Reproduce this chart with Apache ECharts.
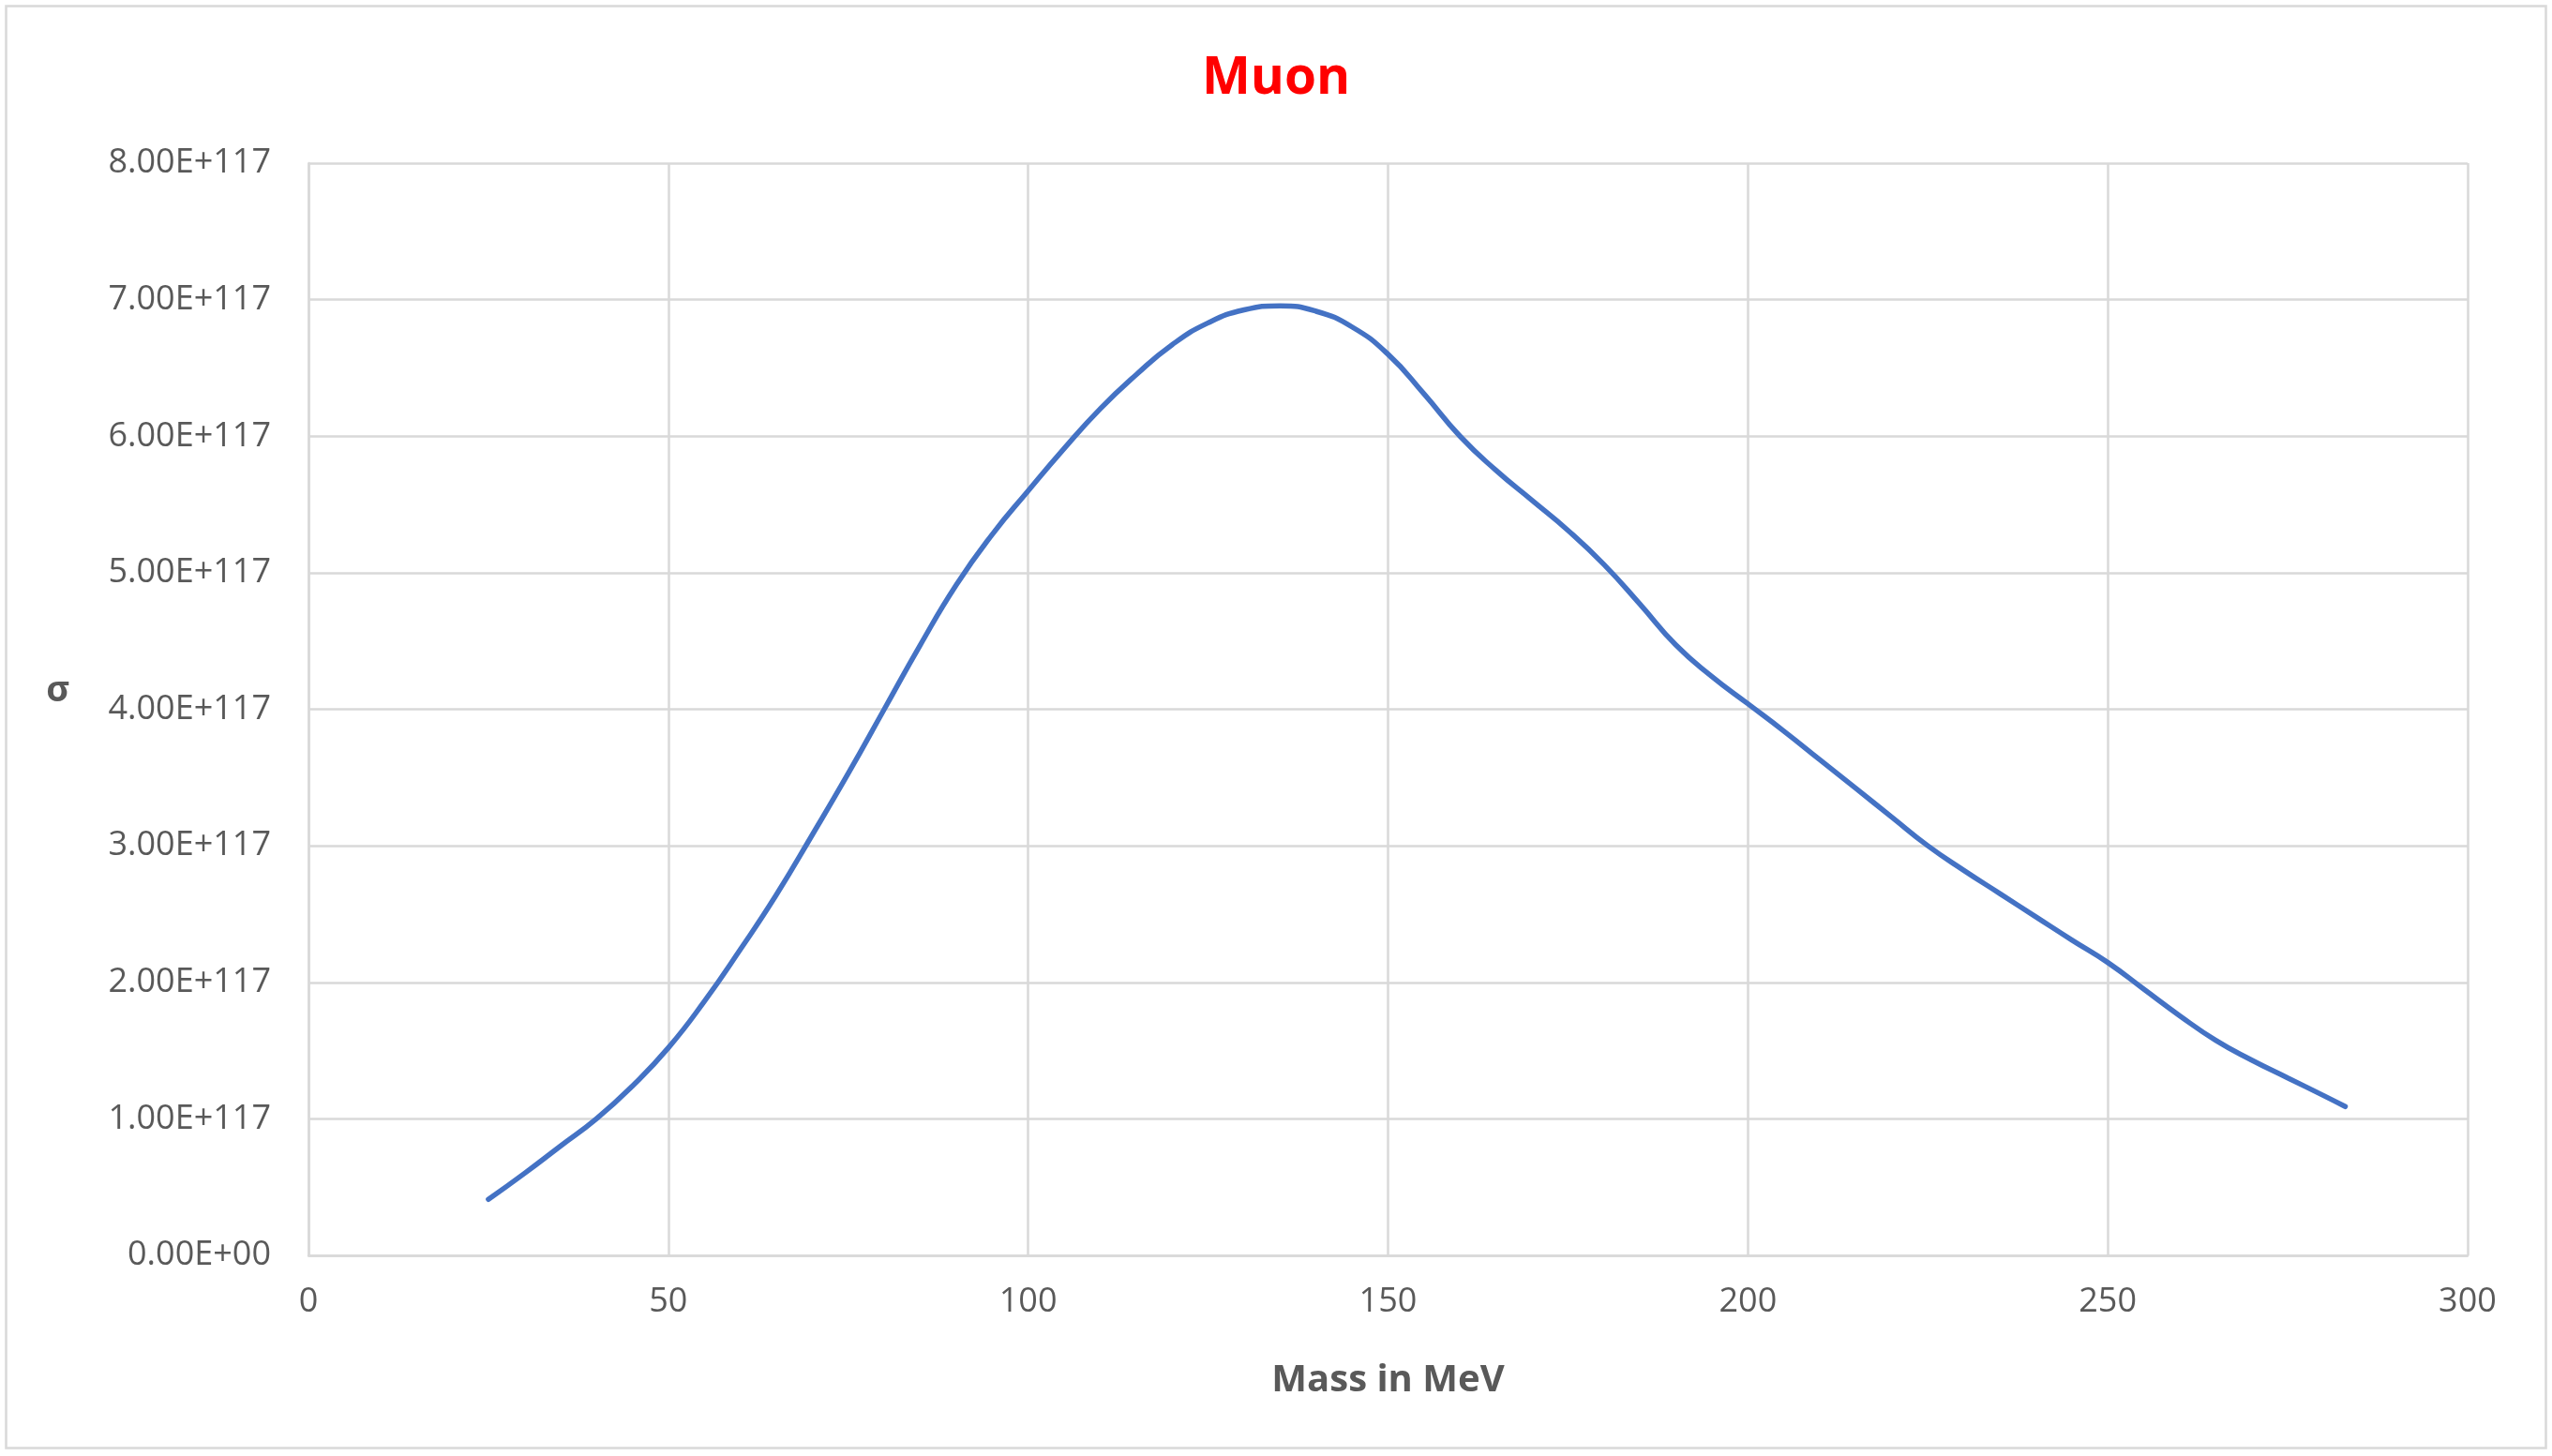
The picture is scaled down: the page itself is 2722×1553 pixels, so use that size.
<!DOCTYPE html>
<html><head><meta charset="utf-8">
<script src="https://cdn.jsdelivr.net/npm/echarts@6/dist/echarts.min.js"></script>
<style>html,body{margin:0;padding:0;background:#fff}#c{width:2722px;height:1553px}</style>
</head><body><div id="c"></div>
<script>
// Mass in MeV
const massMeV = [25, 30, 35, 40, 45, 50, 55, 60, 65, 70, 75, 80, 85, 90, 95, 100, 105, 110, 115, 120, 125, 130, 135, 140, 145, 150, 155, 160, 165, 170, 175, 180, 185, 190, 195, 200, 205, 210, 215, 220, 225, 230, 235, 240, 245, 250, 255, 260, 265, 270, 275, 280, 283];
// sigma, in units of 1E+117
const sigmaE117 = [0.41, 0.60, 0.80, 1.00, 1.24, 1.52, 1.86, 2.24, 2.64, 3.08, 3.53, 4.00, 4.47, 4.91, 5.28, 5.60, 5.91, 6.20, 6.45, 6.67, 6.83, 6.925, 6.955, 6.915, 6.80, 6.60, 6.31, 6.00, 5.75, 5.53, 5.31, 5.06, 4.77, 4.47, 4.24, 4.04, 3.84, 3.63, 3.42, 3.21, 3.00, 2.82, 2.65, 2.48, 2.31, 2.145, 1.95, 1.755, 1.575, 1.43, 1.30, 1.17, 1.09];
const xTicks = [0, 50, 100, 150, 200, 250, 300];
const yTickLabels = ['0.00E+00','1.00E+117','2.00E+117','3.00E+117','4.00E+117','5.00E+117','6.00E+117','7.00E+117','8.00E+117'];
const titleText = 'Muon';
const xName = 'Mass in MeV';
const yName = 'σ';

const chart = echarts.init(document.getElementById('c'), null, {renderer: 'canvas'});
const font = '"Open Sans", "Liberation Sans", sans-serif';
const grey = '#595959';
const gridCol = '#d9d9d9';
chart.setOption({
  backgroundColor: '#fff',
  animation: false,
  title: {
    text: titleText, left: 'center', top: 52,
    textStyle: {color: '#ff0000', fontSize: 55, fontWeight: 'bold', fontFamily: font}
  },
  grid: {left: 329, right: 90, top: 174, bottom: 214, containLabel: false},
  xAxis: {
    type: 'value', min: xTicks[0], max: xTicks[xTicks.length-1], interval: 50,
    name: xName, nameLocation: 'middle', nameGap: 114,
    nameTextStyle: {color: grey, fontSize: 40, fontWeight: 'bold', fontFamily: font},
    axisLine: {show: true, lineStyle: {color: gridCol, width: 2.5}},
    axisTick: {show: false},
    axisLabel: {color: grey, fontSize: 36, fontFamily: font, margin: 32},
    splitLine: {show: true, lineStyle: {color: gridCol, width: 2.5}}
  },
  yAxis: {
    type: 'value', min: 0, max: 8, interval: 1,
    name: yName, nameLocation: 'middle', nameRotate: 0, nameGap: 255,
    nameTextStyle: {color: grey, fontSize: 38, fontWeight: 'bold', fontFamily: font, verticalAlign: 'bottom'},
    axisLine: {show: true, lineStyle: {color: gridCol, width: 2.5}},
    axisTick: {show: false},
    axisLabel: {color: grey, fontSize: 36, fontFamily: font, margin: 40,
      formatter: (v) => yTickLabels[Math.round(v)]},
    splitLine: {show: true, lineStyle: {color: gridCol, width: 2.5}}
  },
  graphic: [{
    type: 'rect', left: 4, top: 4, silent: true,
    shape: {width: 2709, height: 1538},
    style: {fill: 'none', stroke: gridCol, lineWidth: 2.5}
  }],
  series: [{
    type: 'line', smooth: 0.5, showSymbol: false,
    data: massMeV.map((m, i) => [m, sigmaE117[i]]),
    lineStyle: {color: '#4472C4', width: 5.5, cap: 'round'},
    itemStyle: {color: '#4472C4'}
  }]
});
</script></body></html>
